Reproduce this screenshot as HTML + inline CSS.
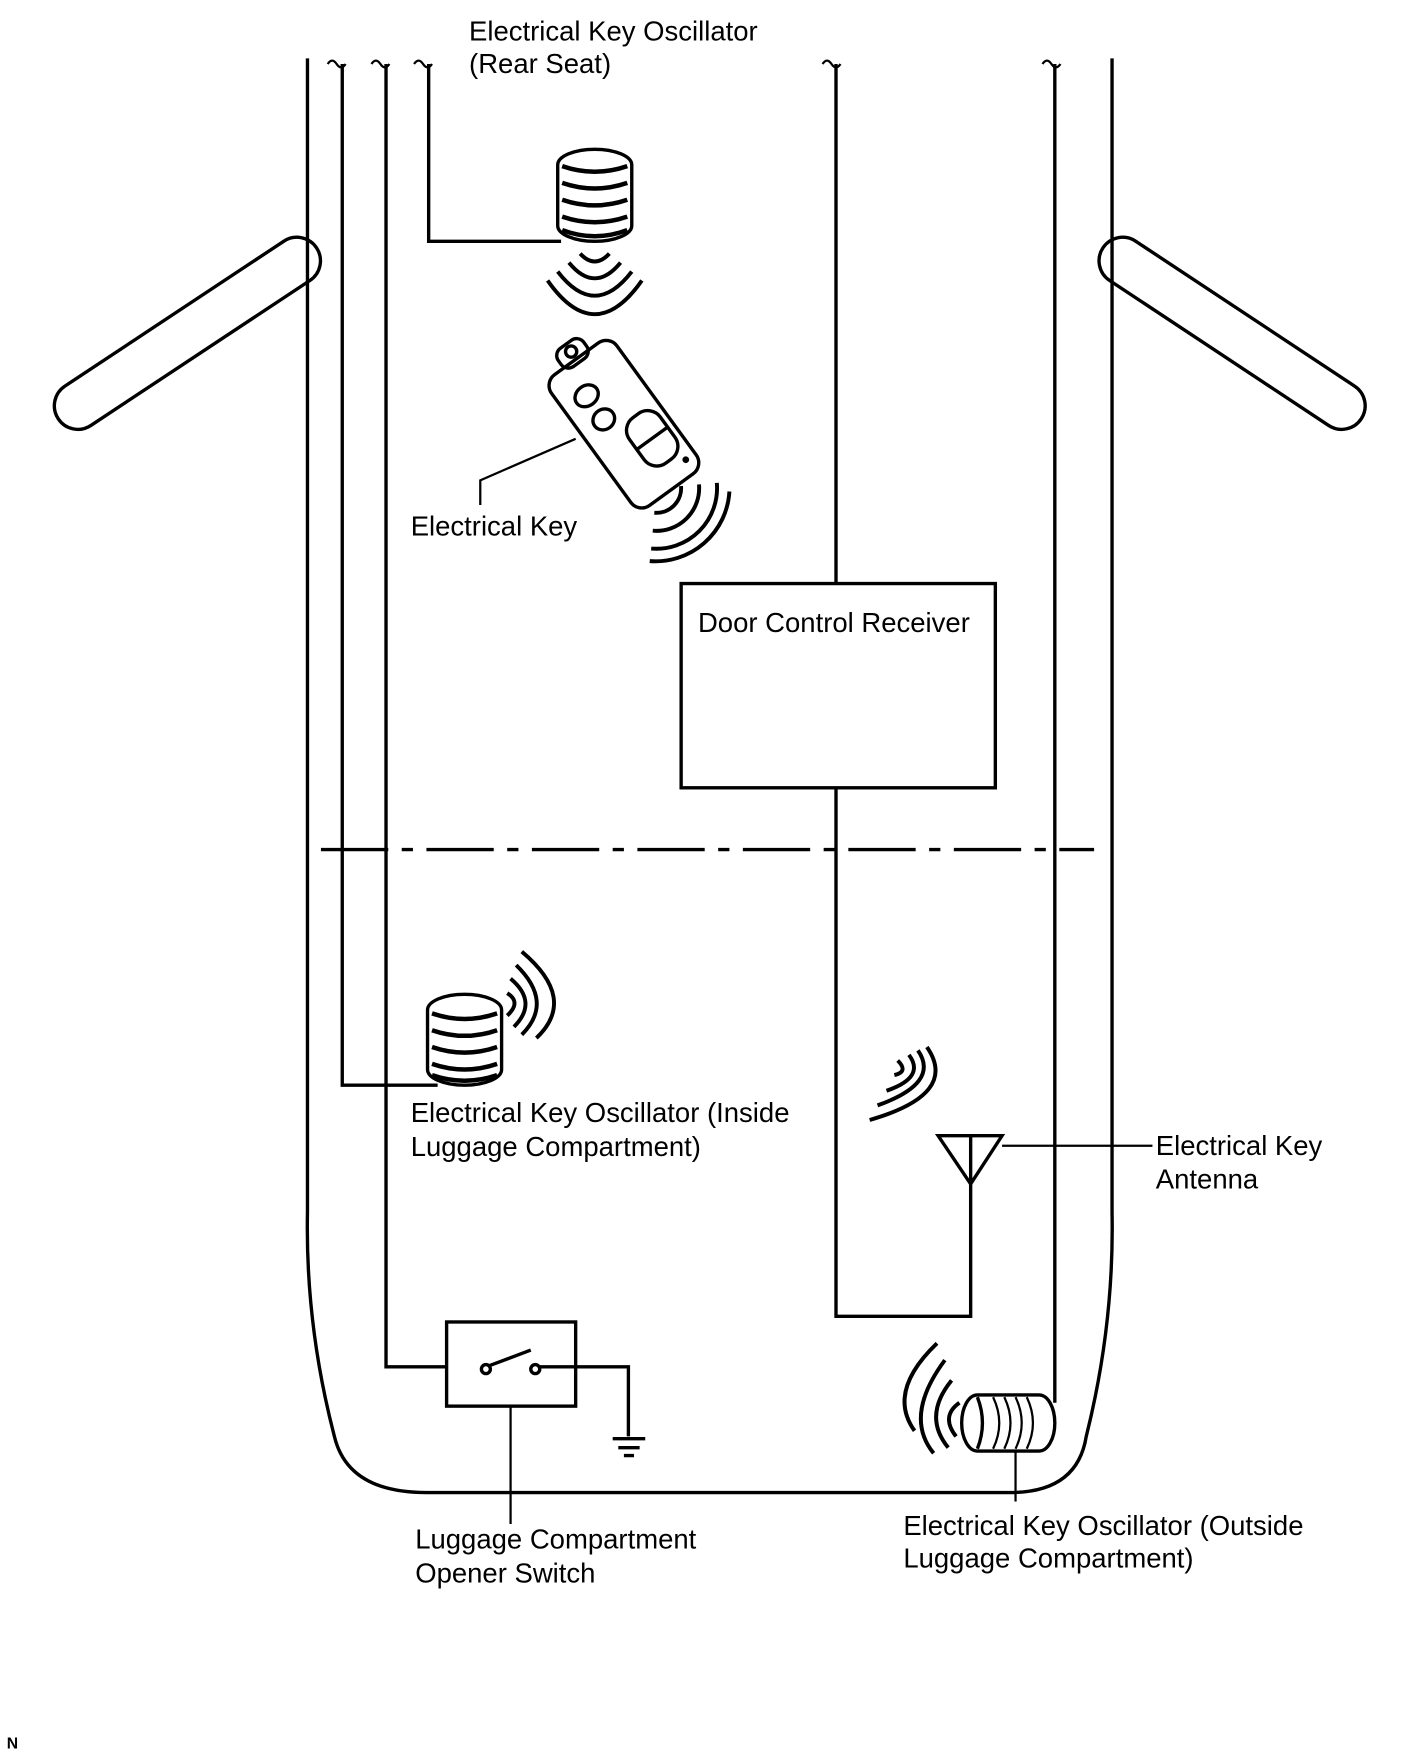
<!DOCTYPE html>
<html><head><meta charset="utf-8"><style>
html,body{margin:0;padding:0;background:#fff;}
svg{display:block;}
text{font-family:"Liberation Sans",sans-serif;font-size:24.5px;fill:#000;}
</style></head><body>
<svg width="1424" height="1763" viewBox="0 0 1269 1571" preserveAspectRatio="none" xmlns="http://www.w3.org/2000/svg">
<g fill="none" stroke="#000" stroke-width="3">
<path d="M274 52 V1080 Q272 1180 298 1280 Q310 1330 380 1330 H900 Q960 1330 968 1280 Q993 1180 991 1080 V52"/>
<g transform="translate(167,297) rotate(-33.5)"><rect x="-138" y="-21" width="276" height="42" rx="21"/></g>
<g transform="translate(1098,297) rotate(33.5)"><rect x="-138" y="-21" width="276" height="42" rx="21"/></g>
<path d="M305 57 V967 H390"/>
<path d="M344 57 V1218 H398"/>
<path d="M382 57 V215 H500"/>
<path d="M745 57 V520"/>
<path d="M745 702 V1173 H865 V1055"/>
<path d="M940 57 V1250"/>
<g stroke-width="2">
<path d="M292 57 q4 -6 8 0 q4 6 8 0"/>
<path d="M331 57 q4 -6 8 0 q4 6 8 0"/>
<path d="M369 57 q4 -6 8 0 q4 6 8 0"/>
<path d="M733 57 q4 -6 8 0 q4 6 8 0"/>
<path d="M929 57 q4 -6 8 0 q4 6 8 0"/>
</g>
<rect x="607" y="520" width="280" height="182"/>
<path d="M286 757 H975" stroke-dasharray="60 12 10 12"/>
<rect x="497" y="133" width="66" height="82" rx="33" ry="14"/>
<path d="M501 148 Q530 158 559 148 M501 163 Q530 173 559 163 M501 178 Q530 188 559 178 M501 193 Q530 203 559 193 M501 205 Q530 216 559 205" stroke-width="4"/>
<path d="M517 226 Q530 240 543 226 M507 234 Q530 262 553 234 M497 242 Q530 285 563 242 M488 250 Q530 310 572 250" stroke-width="3.5"/>
<g transform="translate(556,378) rotate(-36)">
<rect x="-36" y="-72" width="72" height="144" rx="12"/>
<rect x="-14" y="-88" width="28" height="20" rx="8"/>
<circle cx="0" cy="-80" r="5"/>
<ellipse cx="-12" cy="-40" rx="11" ry="9"/>
<ellipse cx="-12" cy="-14" rx="10" ry="9"/>
<rect x="-4" y="0" width="34" height="50" rx="14"/>
<path d="M-4 25 H30"/>
<circle cx="26" cy="58" r="1.5" fill="#000"/>
</g>
<path d="M513 391 L428 428 V450" stroke-width="2"/>
<path d="M606.9 433.1 A22 22 0 0 1 583.1 456.9 M622.9 431.7 A38 38 0 0 1 581.7 472.9 M638.8 430.3 A54 54 0 0 1 580.3 488.8 M650 438 A66 66 0 0 1 579 500" stroke-width="3.5"/>
<rect x="381" y="886" width="66" height="81" rx="33" ry="14"/>
<path d="M385 903 Q414 913 443 903 M385 918 Q414 928 443 918 M385 933 Q414 943 443 933 M385 948 Q414 958 443 948 M385 958 Q414 968 443 958" stroke-width="4"/>
<path d="M452 885 Q465 893 452 905 M455 872 Q480 893 458 915 M460 860 Q494 893 465 922 M465 848 Q515 890 478 925" stroke-width="3.5"/>
<path d="M836 1012 H893 L865 1055 Z M865 1012 V1055"/>
<path d="M893 1021 H1027" stroke-width="2"/>
<path d="M800 945 Q810 955 797 958 M810 940 Q825 960 790 972 M818 936 Q838 965 782 985 M826 933 Q855 975 775 998" stroke-width="3.5"/>
<rect x="398" y="1178" width="115" height="75"/>
<circle cx="433" cy="1220" r="4"/>
<circle cx="477" cy="1220" r="4"/>
<path d="M436 1217 L473 1203"/>
<path d="M481 1218 H560 V1280"/>
<path d="M546 1282 H575 M551 1290 H570 M556 1297 H565" stroke-width="3"/>
<path d="M455 1253 V1358" stroke-width="2"/>
<rect x="857" y="1243" width="83" height="50" rx="14" ry="25"/>
<path d="M871 1245 Q880 1268 871 1291" />
<path d="M885 1245 Q896 1268 885 1291 M895 1245 Q906 1268 895 1291 M905 1245 Q916 1268 905 1291 M915 1245 Q926 1268 915 1291" stroke-width="2"/>
<path d="M905 1293 V1338" stroke-width="2"/>
<path d="M855 1250 Q838 1262 852 1280 M848 1230 Q822 1262 845 1290 M842 1212 Q805 1262 832 1295 M835 1197 Q790 1240 815 1275" stroke-width="3.5"/>
</g>
<text x="418" y="36">Electrical Key Oscillator</text>
<text x="418" y="65">(Rear Seat)</text>
<text x="366" y="477">Electrical Key</text>
<text x="622" y="563">Door Control Receiver</text>
<text x="366" y="1000">Electrical Key Oscillator (Inside</text>
<text x="366" y="1030">Luggage Compartment)</text>
<text x="1030" y="1029">Electrical Key</text>
<text x="1030" y="1059">Antenna</text>
<text x="370" y="1380">Luggage Compartment</text>
<text x="370" y="1410">Opener Switch</text>
<text x="805" y="1368">Electrical Key Oscillator (Outside</text>
<text x="805" y="1397">Luggage Compartment)</text>
<text x="6" y="1558" style="font-size:14px;font-weight:bold">N</text>
</svg>
</body></html>
